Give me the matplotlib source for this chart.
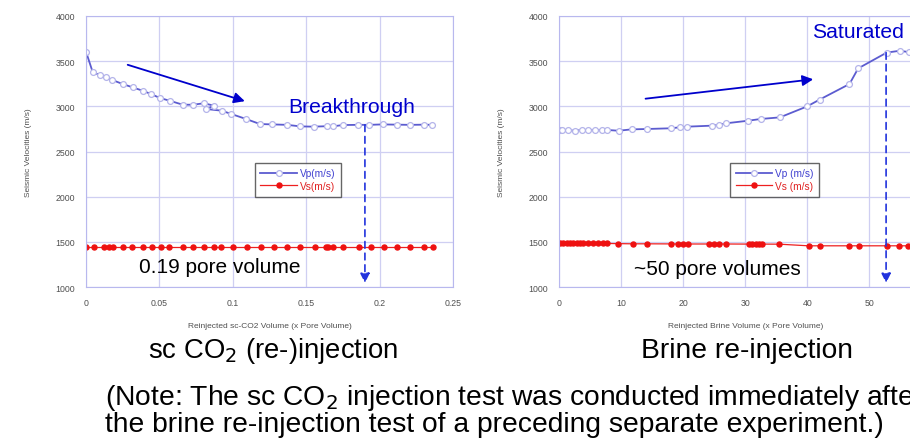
import matplotlib
matplotlib.use('Agg')
import matplotlib.pyplot as plt

plt.rcParams['font.family'] = ['Liberation Sans', 'DejaVu Sans']

# sc-CO2 (re-)injection run
co2_vp_x = [0, 0.0046, 0.0095, 0.0136, 0.018, 0.025, 0.0318, 0.0386, 0.0443, 0.0504, 0.057,
            0.0659, 0.073, 0.0804, 0.0872, 0.082, 0.0924, 0.099, 0.109, 0.1185, 0.127, 0.137,
            0.146, 0.155, 0.164, 0.168, 0.175, 0.185, 0.193, 0.202, 0.212, 0.221, 0.23, 0.236]
co2_vp = [3605, 3377, 3347, 3321, 3291, 3247, 3210, 3173, 3136, 3092, 3062,
          3018, 3018, 3034, 3007, 2970, 2952, 2915, 2860, 2804, 2800, 2795,
          2778, 2775, 2780, 2778, 2793, 2795, 2795, 2800, 2797, 2795, 2797, 2795]
co2_vs_x = [0, 0.0055, 0.0123, 0.0158, 0.0186, 0.0254, 0.0316, 0.0386, 0.0447, 0.0509, 0.0568,
            0.0659, 0.073, 0.0804, 0.0874, 0.092, 0.0999, 0.1095, 0.1192, 0.128, 0.137, 0.1458,
            0.156, 0.1635, 0.165, 0.168, 0.175, 0.186, 0.194, 0.203, 0.212, 0.2208, 0.23, 0.2365]
co2_vs = [1448] * len(co2_vs_x)

# brine re-injection run
br_vp_x = [0.1, 0.43, 1.5, 2.6, 3.65, 4.7, 5.8, 6.9, 7.8, 9.6, 11.7, 14.1, 18.0, 19.5, 20.7,
           24.6, 25.7, 26.9, 30.5, 32.5, 35.6, 40.0, 42.0, 46.8, 48.2, 52.8, 54.9, 56.4, 58.0]
br_vp = [2735, 2738, 2735, 2730, 2738, 2738, 2738, 2738, 2738, 2730, 2745, 2749, 2757, 2768, 2775,
         2786, 2793, 2812, 2841, 2860, 2878, 3000, 3075, 3247, 3420, 3595, 3615, 3600, 3600]
br_vs_x = [0.16, 0.7, 1.24, 1.77, 2.3, 2.85, 3.38, 3.92, 4.72, 5.53, 6.33, 7.14, 7.79, 9.56,
           11.87, 14.13, 18.0, 19.22, 20.03, 20.74, 24.22, 24.97, 25.78, 26.86, 30.6, 31.15,
           31.7, 32.2, 32.75, 35.5, 40.2, 42.05, 46.7, 48.4, 52.9, 54.8, 56.2]
br_vs = [1485, 1485, 1484, 1484, 1485, 1486, 1485, 1484, 1483, 1482, 1483, 1482, 1482, 1480,
         1478, 1478, 1477, 1476, 1476, 1476, 1476, 1476, 1476, 1476, 1475, 1475,
         1475, 1475, 1475, 1474, 1456, 1456, 1456, 1456, 1456, 1456, 1456]

co2_ticks = [0, 0.05, 0.1, 0.15, 0.2, 0.25]
br_ticks = [0, 10, 20, 30, 40, 50, 60]
v_ticks = [1000, 1500, 2000, 2500, 3000, 3500, 4000]

grid_c = '#cfcff2'
blue = '#0000cc'


def style(ax, xticks, xlim, xlabel):
    ax.set_xlim(*xlim)
    ax.set_ylim(1000, 4000)
    ax.set_xticks(xticks)
    ax.set_yticks(v_ticks)
    ax.grid(True, color=grid_c, lw=0.9)
    ax.set_axisbelow(True)
    for s in ax.spines.values():
        s.set_color('#b8b8ee')
    ax.tick_params(length=0, labelsize=6.3, labelcolor='#505050', pad=8)
    ax.set_xlabel(xlabel, fontsize=6, color='#505050', labelpad=11)
    ax.set_ylabel('Seismic Velocities (m/s)', fontsize=6, color='#505050', labelpad=17)


def curves(ax, vpx, vp, vsx, vs, labels):
    ax.plot(vpx, vp, '-o', color='#5c5cd0', lw=1.3, ms=4.2, mfc='white', mec='#b4b4ea',
            mew=0.9, label=labels[0])
    ax.plot(vsx, vs, '-o', color='#ee2020', lw=0.9, ms=3.6, mfc='#ee1111', mec='#ee1111',
            label=labels[1])
    leg = ax.legend(loc='upper left', bbox_to_anchor=(0.46, 0.458), fontsize=7.3,
                    frameon=True, fancybox=False, handlelength=3.6, borderpad=0.55,
                    labelspacing=0.25, handletextpad=0.3, borderaxespad=0)
    leg.get_frame().set_edgecolor('#404040')
    leg.get_frame().set_linewidth(1.0)
    for t, c in zip(leg.get_texts(), ['#4040d0', '#e02020']):
        t.set_color(c)


fig = plt.figure(figsize=(9.1, 4.39), dpi=100)
ax1 = fig.add_axes([86 / 910, 1 - 288 / 439, 367 / 910, 271 / 439])
ax2 = fig.add_axes([559 / 910, 1 - 288 / 439, 372.4 / 910, 271 / 439])

style(ax1, co2_ticks, (0, 0.25), 'Reinjected sc-CO2 Volume (x Pore Volume)')
ax1.set_xticklabels(['0', '0.05', '0.1', '0.15', '0.2', '0.25'])
style(ax2, br_ticks, (0, 60), 'Reinjected Brine Volume (x Pore Volume)')
curves(ax1, co2_vp_x, co2_vp, co2_vs_x, co2_vs, ['Vp(m/s)', 'Vs(m/s)'])
curves(ax2, br_vp_x, br_vp, br_vs_x, br_vs, ['Vp (m/s)', 'Vs (m/s)'])

# trend arrows
ax1.annotate('', xy=(0.110, 3048), xytext=(0.0266, 3469),
             arrowprops=dict(arrowstyle='-|>', color=blue, lw=1.3, mutation_scale=16))
ax2.annotate('', xy=(41.4, 3303), xytext=(13.5, 3081),
             arrowprops=dict(arrowstyle='-|>', color=blue, lw=1.3, mutation_scale=16))

# breakthrough / saturation markers
ax1.annotate('', xy=(0.19, 1045), xytext=(0.19, 2795),
             arrowprops=dict(arrowstyle='-|>', color='#2233dd', lw=1.2, ls=(0, (4, 3)),
                             mutation_scale=14, shrinkA=0, shrinkB=0))
ax2.annotate('', xy=(52.7, 1045), xytext=(52.7, 3595),
             arrowprops=dict(arrowstyle='-|>', color='#2233dd', lw=1.2, ls=(0, (4, 3)),
                             mutation_scale=14, shrinkA=0, shrinkB=0))

ax1.text(0.181, 2993, 'Breakthrough', color=blue, fontsize=15.2, ha='center', va='center')
ax1.text(0.091, 1222, '0.19 pore volume', color='black', fontsize=15, ha='center', va='center')
ax2.text(48.1, 3823, 'Saturated', color=blue, fontsize=15.2, ha='center', va='center')
ax2.text(25.5, 1210, '~50 pore volumes', color='black', fontsize=15, ha='center', va='center')

fig.text(273 / 910, 1 - 351 / 439, 'sc CO$_2$ (re-)injection', fontsize=19.8, ha='center',
         va='center')
fig.text(747 / 910, 1 - 351 / 439, 'Brine re-injection', fontsize=20.3, ha='center',
         va='center')
fig.text(105 / 910, 1 - 398 / 439,
         '(Note: The sc CO$_2$ injection test was conducted immediately after',
         fontsize=20.3, ha='left', va='center')
fig.text(105 / 910, 1 - 425 / 439,
         'the brine re-injection test of a preceding separate experiment.)',
         fontsize=20.3, ha='left', va='center')

fig.savefig('out.png', dpi=100)
